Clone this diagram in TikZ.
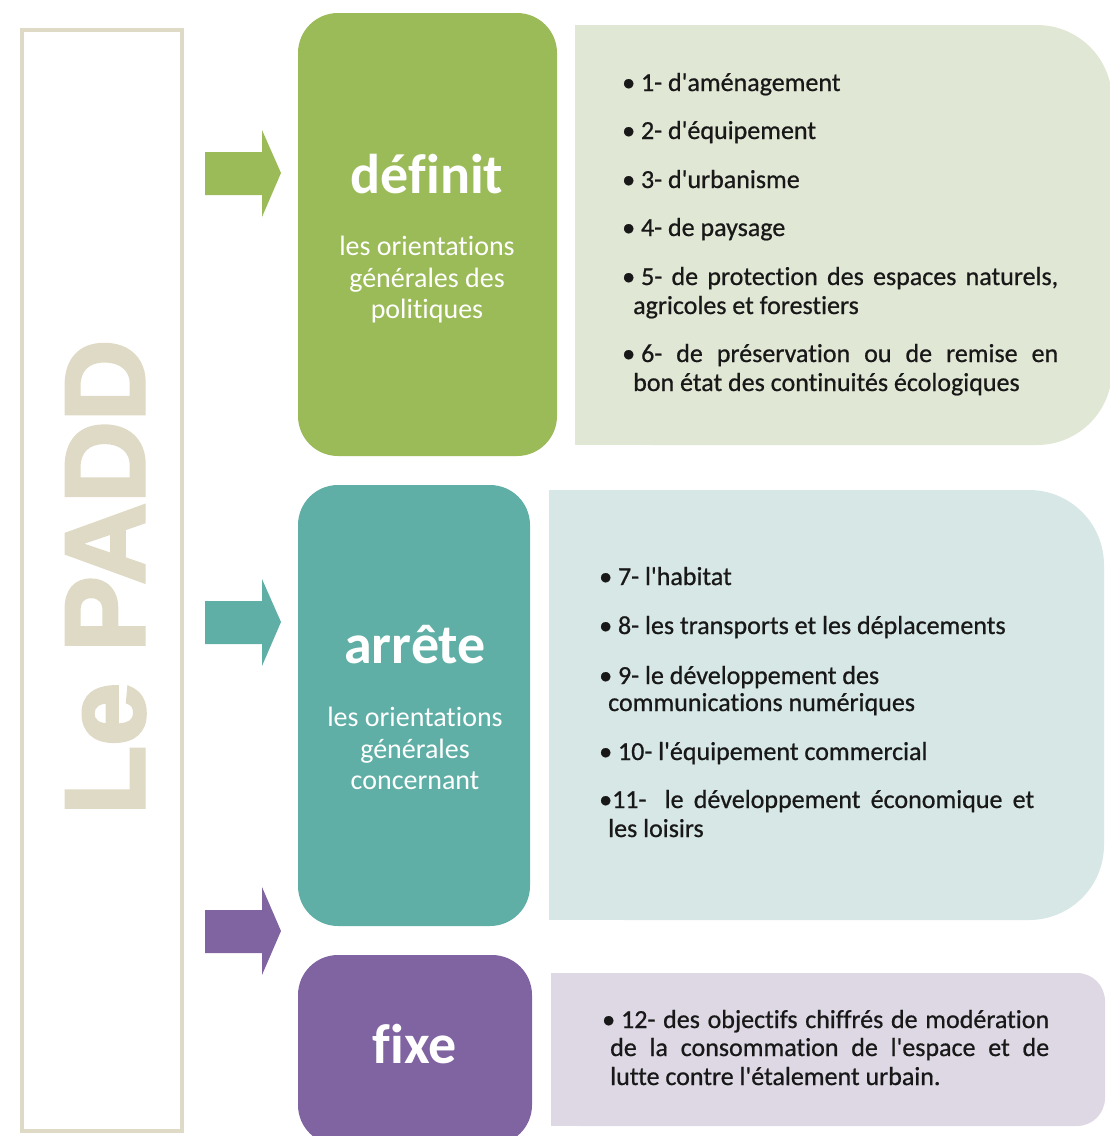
\documentclass[tikz,border=0pt]{standalone}
\usepackage{fontspec}
\setmainfont{Carlito}[Ligatures={TeXOff,NoCommon}]
\newfontfamily\listfont{Carlito}[Ligatures={TeXOff,NoCommon}, FakeBold=0.7]
\newfontfamily\padfont{Liberation Sans}[Ligatures=TeXOff, BoldFeatures={FakeBold=3}]
\definecolor{greenD}{HTML}{9BBB59}
\definecolor{greenL}{HTML}{E1E7D5}
\definecolor{tealD}{HTML}{60AFA6}
\definecolor{tealL}{HTML}{D6E7E5}
\definecolor{purpD}{HTML}{8064A2}
\definecolor{purpL}{HTML}{DDD8E4}
\definecolor{beige}{HTML}{DFDAC5}
\definecolor{listc}{HTML}{181818}
\begin{document}
\begin{tikzpicture}[x=1pt,y=-1pt,
  listtxt/.style={anchor=base west, inner sep=0pt, text=listc, font=\listfont\fontsize{26}{29}\selectfont},
  titletxt/.style={anchor=base, inner sep=0pt, text=white, font=\fontsize{56}{60}\selectfont\bfseries},
  subtxt/.style={anchor=base, inner sep=0pt, text=white, font=\fontsize{28}{32}\selectfont},
  darkbox/.style={rounded corners=40pt, inner sep=0pt, draw=none},
  bigarrow/.style={draw=none},
]
\useasboundingbox (0,0) rectangle (1110,1136);
\clip (0,0) rectangle (1110,1136);

% left frame
\node[draw=beige, line width=4pt, minimum width=160pt, minimum height=1101pt, inner sep=0pt] (frame) at (102,580.5) {};
\node[rotate=90, anchor=base west, inner sep=0pt, text=beige, font=\padfont\bfseries\fontsize{113}{115}\selectfont] (padd) at (144,815) {Le PADD};

% arrows
\fill[greenD, bigarrow] (205,152) -- (262,152) -- (262,130) -- (281,173) -- (262,217) -- (262,195) -- (205,195) -- cycle;
\fill[tealD, bigarrow] (205,601) -- (262,601) -- (262,579) -- (281,622) -- (262,666) -- (262,644) -- (205,644) -- cycle;
\fill[purpD, bigarrow] (205,910) -- (262,910) -- (262,887) -- (281,931) -- (262,975) -- (262,953) -- (205,953) -- cycle;

% light panels
\fill[greenL, rounded corners=75pt] (575,25) rectangle (1112,445);
\fill[greenL] (575,25) rectangle (700,445);
\fill[tealL, rounded corners=75pt] (549,490) rectangle (1104,920);
\fill[tealL] (549,490) rectangle (700,920);
\fill[purpL, rounded corners=28pt] (551,973) rectangle (1105,1126);
\fill[purpL] (551,973) rectangle (700,1126);

% dark boxes
\node[darkbox, fill=greenD, minimum width=259pt, minimum height=443pt] (bdef) at (427.5,234.5) {};
\node[darkbox, fill=tealD, minimum width=232pt, minimum height=441pt] (barr) at (414,705.5) {};
\node[darkbox, fill=purpD, minimum width=234pt, minimum height=190pt] (bfix) at (415,1050) {};

% titles
\node[titletxt] (tdef) at (427,193) {définit};
\node[subtxt] (sdef1) at (427,255) {les orientations};
\node[subtxt] (sdef2) at (427,287) {générales des};
\node[subtxt] (sdef3) at (427,318) {politiques};

\node[titletxt] (tarr) at (415,663) {arrête};
\node[subtxt] (sarr1) at (415,726) {les orientations};
\node[subtxt] (sarr2) at (415,758) {générales};
\node[subtxt] (sarr3) at (415,789) {concernant};

\node[titletxt] (tfix) at (415,1063) {fixe};

% green list
\node[listtxt] (g1) at (622,91) {\textbullet\ 1- d'aménagement};
\node[listtxt] (g2) at (622,139) {\textbullet\ 2- d'équipement};
\node[listtxt] (g3) at (622,188) {\textbullet\ 3- d'urbanisme};
\node[listtxt] (g4) at (622,236) {\textbullet\ 4- de paysage};
\node[listtxt] (g5a) at (622,285) {\makebox[436pt][s]{\textbullet\kern6pt 5- de protection des espaces naturels,}};
\node[listtxt] (g5b) at (633,314) {agricoles et forestiers};
\node[listtxt] (g6a) at (622,362) {\makebox[436pt][s]{\textbullet\kern6pt 6- de préservation ou de remise en}};
\node[listtxt] (g6b) at (633,391) {bon état des continuités écologiques};

% teal list
\node[listtxt] (t7) at (599,585) {\textbullet\ 7- l'habitat};
\node[listtxt] (t8) at (599,634) {\textbullet\ 8- les transports et les déplacements};
\node[listtxt] (t9a) at (599,684) {\textbullet\ 9- le développement des};
\node[listtxt] (t9b) at (608,711) {communications numériques};
\node[listtxt] (t10) at (599,760) {\textbullet\ 10- l'équipement commercial};
\node[listtxt] (t11a) at (599,808) {\makebox[435pt][s]{\textbullet 11-\kern8pt\ le développement économique et}};
\node[listtxt] (t11b) at (608,837) {les loisirs};

% purple list
\node[listtxt] (p1) at (602,1028) {\makebox[447pt][s]{\textbullet\kern6pt 12- des objectifs chiffrés de modération}};
\node[listtxt] (p2) at (610,1056) {\makebox[439pt][s]{de la consommation de l'espace et de}};
\node[listtxt] (p3) at (610,1085) {lutte contre l'étalement urbain.};
\end{tikzpicture}
\end{document}
